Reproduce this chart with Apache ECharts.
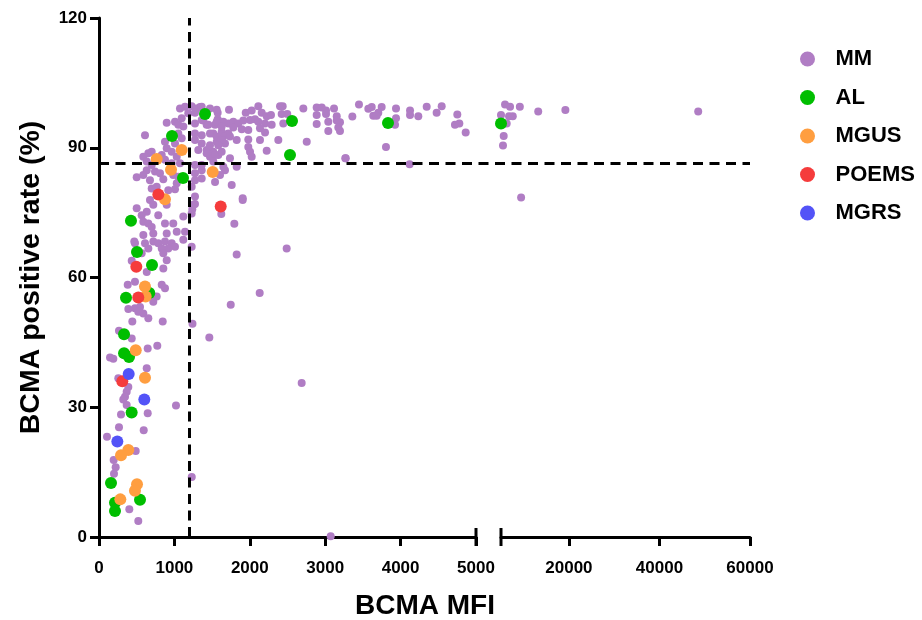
<!DOCTYPE html>
<html>
<head>
    <meta charset="utf-8">
    <title>BCMA MFI vs positive rate</title>
    <script src="https://cdn.jsdelivr.net/npm/echarts@6/dist/echarts.min.js"></script>
    <style>
        html, body { margin: 0; padding: 0; background: #fff; }
        #chart { width: 922px; height: 620px; }
    </style>
</head>
<body>
<div id="chart"></div>
<script>
    // values: [BCMA MFI, positive rate %]
    var mmLeft = [
        [1273,77.0],[1237,75.8],[1906,77.9],[1622,74.7],[1795,72.4],[2489,66.7],[1826,65.3],[2131,56.4],[1747,53.7],[1240,49.3],
        [1463,46.1],[2688,35.6],[1230,13.9],[3073,0.2],
        [3448,100],[3572,99.0],[3617,99.4],[3749,99.4],[3704,98.1],[3638,97.4],[3682,97.4],[3939,99.1],[3939,96.8],[3926,95.3],
        [3360,97.2],[3196,95.9],[3196,93.9],[4125,98.6],[4125,97.6],[4235,97.3],[4346,99.5],[4478,98.1],[4545,99.6],[4752,97.7],
        [4779,95.6],[4721,95.3],[4863,93.5],[3806,90.2],[3267,87.6],[4120,86.2],
        [1340,99.4],[1574,98.1],[1574,96.6],[1724,98.8],[1946,98.1],[2025,98.6],[2113,99.6],[2158,98.1],[2224,97.3],[2281,97.6],
        [2401,99.6],[2436,99.6],[2423,97.8],[2497,97.8],[2710,99.1],[2887,99.3],[2954,99.3],[3011,98.6],[3117,99.1],[2887,97.6],
        [3011,97.8],[3153,97.3],[3041,96.0],[3153,96.3],[2887,95.5],[3041,93.9],[3174,94.7],[1383,96.3],[1428,95.3],[1539,95.3],
        [1649,96.0],[1715,95.6],[1781,96.0],[1848,95.6],[1914,96.3],[2003,96.4],[2069,96.6],[2113,96.0],[2202,95.6],[2290,95.3],
        [2444,95.6],[1781,94.7],[1893,94.3],[1980,94.1],[2135,94.5],[2202,93.5],[1627,93.7],[1715,93.3],[1516,93.3],[1582,91.8],
        [1649,92.6],[1737,92.6],[1671,91.0],[1561,91.4],[1826,91.8],[1980,91.9],[2135,91.8],[2378,91.8],[2755,91.4],[1980,90.2],
        [2224,89.3],[1428,89.5],[1516,89.1],[1472,87.9],[1582,88.3],[1737,87.6],[2003,89.1],[2025,87.9],[1362,86.0],[1826,85.6],
        [1671,84.8],[1539,82.1],[1760,81.4],[1605,83.7],[1906,78.3],[3272,87.6],
        [1074,99.1],[1141,99.5],[1229,99.6],[1296,99.1],[1362,99.5],[1472,99.1],[1561,98.8],[1184,98.0],[1273,98.1],[1097,96.8],
        [1008,96.0],[898,95.8],[1052,95.3],[1118,94.9],[1273,95.6],[1362,96.4],[1450,95.3],[1561,96.0],[1627,94.9],[610,92.9],
        [875,91.4],[1052,93.3],[1097,92.2],[1008,91.0],[1273,93.3],[1362,92.9],[1472,93.3],[1561,92.6],[1627,91.8],[1273,91.8],
        [1362,91.0],[1472,90.6],[1582,90.6],[1317,89.5],[1428,88.7],[1539,88.3],[1627,89.1],[898,89.9],[964,89.1],[654,88.7],
        [699,89.1],[588,87.9],[633,86.8],[832,88.3],[875,87.2],[1031,87.9],[1074,86.4],[964,86.4],[1273,86.0],[1362,84.8],
        [1273,84.1],[1516,86.8],[1649,85.6],[699,86.0],[633,84.8],[588,83.7],[500,83.2],[676,82.5],[743,84.5],[809,84.1],
        [853,82.7],[985,83.7],[1052,83.3],[1031,81.8],[699,80.6],[765,81.0],[919,80.2],[1008,80.4],[1229,81.0],[1273,82.5],
        [1362,82.9],[1273,78.7],[1251,76.8],[1229,74.8],[1118,74.1],[676,77.9],[898,76.8],[720,76.8],[500,76.0],[633,75.2],
        [566,74.4],[786,74.4],[588,72.9],[654,72.5],[699,71.7],[875,72.5],[985,72.5],[720,70.2],[898,70.2],[1031,70.6],
        [588,69.8],[477,67.9],[610,67.9],[720,68.3],[786,67.9],[875,68.3],[964,67.9],[1118,68.7],[1229,67.1],[1008,67.1],
        [1141,70.6],
        [468,68.3],[654,66.7],[832,66.7],[919,66.7],[853,65.6],[566,65.6],[434,63.9],[898,64.0],[633,61.3],[853,62.1],
        [381,58.3],[477,59.0],[832,58.3],[875,57.5],[765,55.6],[720,54.4],[389,52.7],[477,52.9],[544,53.2],[521,52.1],
        [588,51.7],[654,50.6],[442,49.8],[845,49.8],[265,47.7],[434,45.9],[646,43.6],[773,44.2],[146,41.5],[190,41.2],
        [633,39.0],[256,36.7],[389,34.7],[367,33.6],[345,32.4],
        [322,31.8],[367,30.5],[1021,30.4],[646,28.6],[292,28.3],[265,25.4],[593,24.7],[106,23.2],[487,19.9],[195,17.8],
        [221,16.1],[199,14.6],[402,6.4],[521,3.7]
    ];
    var mmRight = [
        [5890,100],[7000,99.5],[9160,99.5],[5000,97.6],[6780,97.3],[7600,97.3],[6260,95.6],[5600,92.7],[5440,90.5],
        [13220,98.4],[19220,98.7],[48560,98.4],[9440,78.5]
    ];
    var alLeft = [
        [1406,97.8],[968,92.7],[1114,83.0],[424,73.1],[504,65.9],[703,62.9],[667,56.4],[358,55.3],[332,46.9],[332,42.5],
        [398,41.6],[433,28.8],[159,12.5],[544,8.6],[212,7.9],[212,6.0],[2560,96.2],[2533,88.3],[3833,95.7]
    ];
    var alRight = [[5000,95.6]];
    var mgus = [
        [1097,89.5],[765,87.4],[955,84.9],[1508,84.4],[875,78.1],[610,57.9],[619,55.6],[487,43.2],[610,36.8],[389,20.1],
        [292,18.9],[504,12.2],[477,10.7],[283,8.7]
    ];
    var poems = [[787,79.2],[1614,76.4],[495,62.5],[521,55.4],[309,36.0]];
    var mgrs = [[394,37.7],[601,31.8],[243,22.1]];

    var groups = ['MM', 'AL', 'MGUS', 'POEMS', 'MGRS'];
    var rightTicks = [20000, 40000, 60000];
    var cutMFI = 1200;      // vertical dashed line
    var cutRate = 86.5;     // horizontal dashed line

    var colors = {MM: '#B07DC4', AL: '#00BE00', MGUS: '#FF9E40', POEMS: '#F53C3C', MGRS: '#5353F7'};
    var fontFam = '"Liberation Sans", Arial, Helvetica, sans-serif';
    var black = '#000';

    var chart = echarts.init(document.getElementById('chart'), null, {renderer: 'canvas'});

    function dots(name, data, xi, size) {
        return {
            name: name,
            type: 'scatter',
            xAxisIndex: xi,
            yAxisIndex: xi,
            data: data,
            symbol: 'circle',
            symbolSize: size,
            clip: false,
            itemStyle: {color: colors[name], opacity: 1},
            z: name === 'MM' ? 2 : 3,
            silent: true
        };
    }

    function plain(v) { return String(v); }

    var xLabel = {color: black, fontSize: 17, fontWeight: 'bold', fontFamily: fontFam, margin: 23, formatter: plain};
    var axLine = {show: true, lineStyle: {color: black, width: 3}};
    var axTick = {show: true, length: 9, lineStyle: {color: black, width: 3}};

    var option = {
        animation: false,
        backgroundColor: '#fff',
        grid: [
            {left: 99, right: 446, top: 18, bottom: 83},
            {left: 501, right: 172, top: 18, bottom: 83},
            {left: 99, right: 172, top: 18, bottom: 83}
        ],
        xAxis: [
            {gridIndex: 0, type: 'value', min: 0, max: 5000, interval: 1000,
                axisLine: axLine, axisTick: axTick, axisLabel: xLabel, splitLine: {show: false}},
            {gridIndex: 1, type: 'value', min: 5000, max: 60000,
                axisLine: axLine,
                axisTick: {show: true, length: 9, lineStyle: {color: black, width: 3}, customValues: rightTicks},
                axisLabel: Object.assign({customValues: rightTicks}, xLabel),
                splitLine: {show: false}},
            {gridIndex: 2, type: 'value', min: 0, max: 1, show: false}
        ],
        yAxis: [
            {gridIndex: 0, type: 'value', min: 0, max: 120, interval: 30,
                name: 'BCMA positive rate (%)', nameLocation: 'middle', nameGap: 53,
                nameTextStyle: {color: black, fontSize: 28.5, fontWeight: 'bold', fontFamily: fontFam},
                axisLine: axLine, axisTick: axTick,
                axisLabel: {color: black, fontSize: 17, fontWeight: 'bold', fontFamily: fontFam, margin: 12, formatter: plain},
                splitLine: {show: false}},
            {gridIndex: 1, type: 'value', min: 0, max: 120, show: false},
            {gridIndex: 2, type: 'value', min: 0, max: 120, show: false}
        ],
        legend: {
            data: groups,
            orient: 'vertical',
            left: 795,
            top: 43,
            icon: 'circle',
            itemWidth: 46,
            itemHeight: 15,
            itemGap: 16.5,
            selectedMode: false,
            textStyle: {color: black, fontSize: 22, fontWeight: 'bold', fontFamily: fontFam}
        },
        series: [
            dots('MM', mmLeft, 0, 8),
            dots('MM', mmRight, 1, 8),
            dots('AL', alLeft, 0, 12),
            dots('AL', alRight, 1, 12),
            dots('MGUS', mgus, 0, 12),
            dots('POEMS', poems, 0, 12),
            dots('MGRS', mgrs, 0, 12),
            {
                name: 'cutoffX', type: 'scatter', xAxisIndex: 0, yAxisIndex: 0, data: [], z: 10,
                markLine: {symbol: 'none', silent: true, label: {show: false},
                    lineStyle: {color: black, width: 3, type: [10, 6.5]},
                    data: [{xAxis: cutMFI}]}
            },
            {
                name: 'cutoffY', type: 'scatter', xAxisIndex: 2, yAxisIndex: 2, data: [], z: 10,
                markLine: {symbol: 'none', silent: true, label: {show: false},
                    lineStyle: {color: black, width: 3, type: [10, 6.5]},
                    data: [{yAxis: cutRate}]}
            }
        ]
    };
    chart.setOption(option);

    // break caps at the ends of the two x segments, plus the x title
    var capL = chart.convertToPixel({xAxisIndex: 0, yAxisIndex: 0}, [5000, 0]);
    var capR = chart.convertToPixel({xAxisIndex: 1, yAxisIndex: 1}, [5000, 0]);
    var capStyle = {stroke: black, lineWidth: 3};
    chart.setOption({
        graphic: [
            {type: 'text', x: 425, y: 606,
                style: {text: 'BCMA MFI', fill: black, font: 'bold 28px ' + fontFam,
                    textAlign: 'center', textVerticalAlign: 'middle'}},
            {type: 'line', shape: {x1: capL[0], y1: capL[1] - 9, x2: capL[0], y2: capL[1] + 9}, style: capStyle, z: 20},
            {type: 'line', shape: {x1: capR[0], y1: capR[1] - 9, x2: capR[0], y2: capR[1] + 9}, style: capStyle, z: 20}
        ]
    });
</script>
</body>
</html>
